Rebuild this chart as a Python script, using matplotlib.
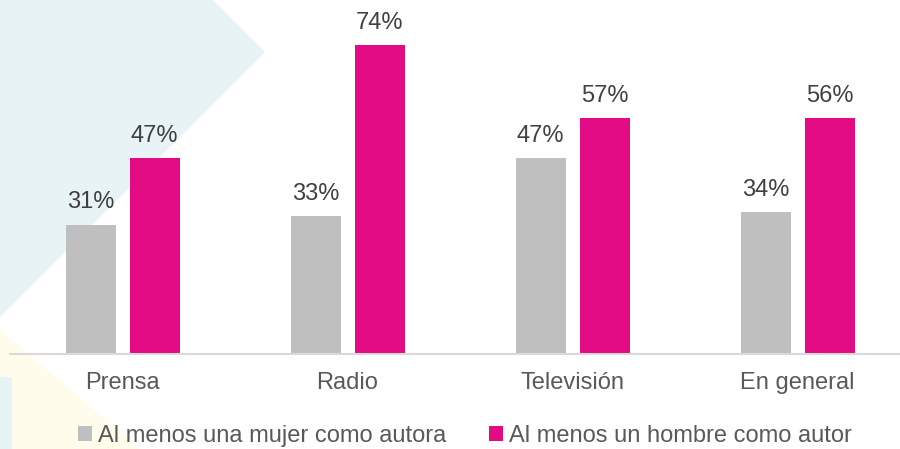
import matplotlib
matplotlib.use("Agg")
import matplotlib.pyplot as plt
from matplotlib.patches import Polygon
import numpy as np

plt.rcParams['font.family'] = ['Liberation Sans', 'DejaVu Sans']

categories = ["Prensa", "Radio", "Televisión", "En general"]
mujer = [31, 33, 47, 34]
hombre = [47, 74, 56.6, 56.4]
series_names = ["Al menos una mujer como autora", "Al menos un hombre como autor"]
colors = ["#BFBFBF", "#E20B84"]

W, H = 900, 449
fig = plt.figure(figsize=(W / 100, H / 100), dpi=100)
fig.patch.set_facecolor("white")

def fpoly(pts, color):
    p = Polygon([(x / W, 1 - y / H) for x, y in pts], closed=True,
                transform=fig.transFigure, facecolor=color, edgecolor="none", zorder=-10)
    fig.patches.append(p)

# faint background decorations
fpoly([(0, 0), (213, 0), (265, 52), (0, 317)], "#E8F3F6")
fpoly([(0, 330), (140, 449), (0, 449)], "#FFFCEC")
fpoly([(0, 377), (12, 377), (12, 449), (0, 449)], "#E8F3F6")

ax = fig.add_axes([10 / W, (H - 354) / H, 890 / W, 354 / H])
ax.set_zorder(1)
ax.patch.set_alpha(0)

x = np.arange(len(categories))
bw = 50 / 225
off = 32 / 225
b1 = ax.bar(x - off, mujer, bw, color=colors[0], label=series_names[0])
b2 = ax.bar(x + off, hombre, bw, color=colors[1], label=series_names[1])

for bars, vals in ((b1, mujer), (b2, hombre)):
    for rect, v in zip(bars, vals):
        ax.annotate(f"{round(v):d}%", (rect.get_x() + rect.get_width() / 2, v),
                    xytext=(0, 8), textcoords="offset points",
                    ha="center", va="bottom", fontsize=17, color="#404040")

ax.set_xlim(-0.5, -0.5 + 890 / 225)
ax.set_ylim(0, 354 / (309 / 74))
ax.set_yticks([])
ax.set_xticks(x)
ax.set_xticklabels(categories, fontsize=17, color="#595959")
ax.tick_params(axis="x", length=0, pad=13)
for s in ["top", "right", "left"]:
    ax.spines[s].set_visible(False)
ax.spines["bottom"].set_color("#D9D9D9")
ax.spines["bottom"].set_linewidth(1.5)

leg = fig.legend(handles=[b1, b2], labels=series_names, loc="center",
                 bbox_to_anchor=(465 / W, 1 - 436 / H), ncol=2, frameon=False,
                 fontsize=17, handlelength=0.6, handleheight=0.6, handletextpad=0.25,
                 columnspacing=1.8, labelcolor="#595959")

fig.savefig("out.png", dpi=100, facecolor="white")
